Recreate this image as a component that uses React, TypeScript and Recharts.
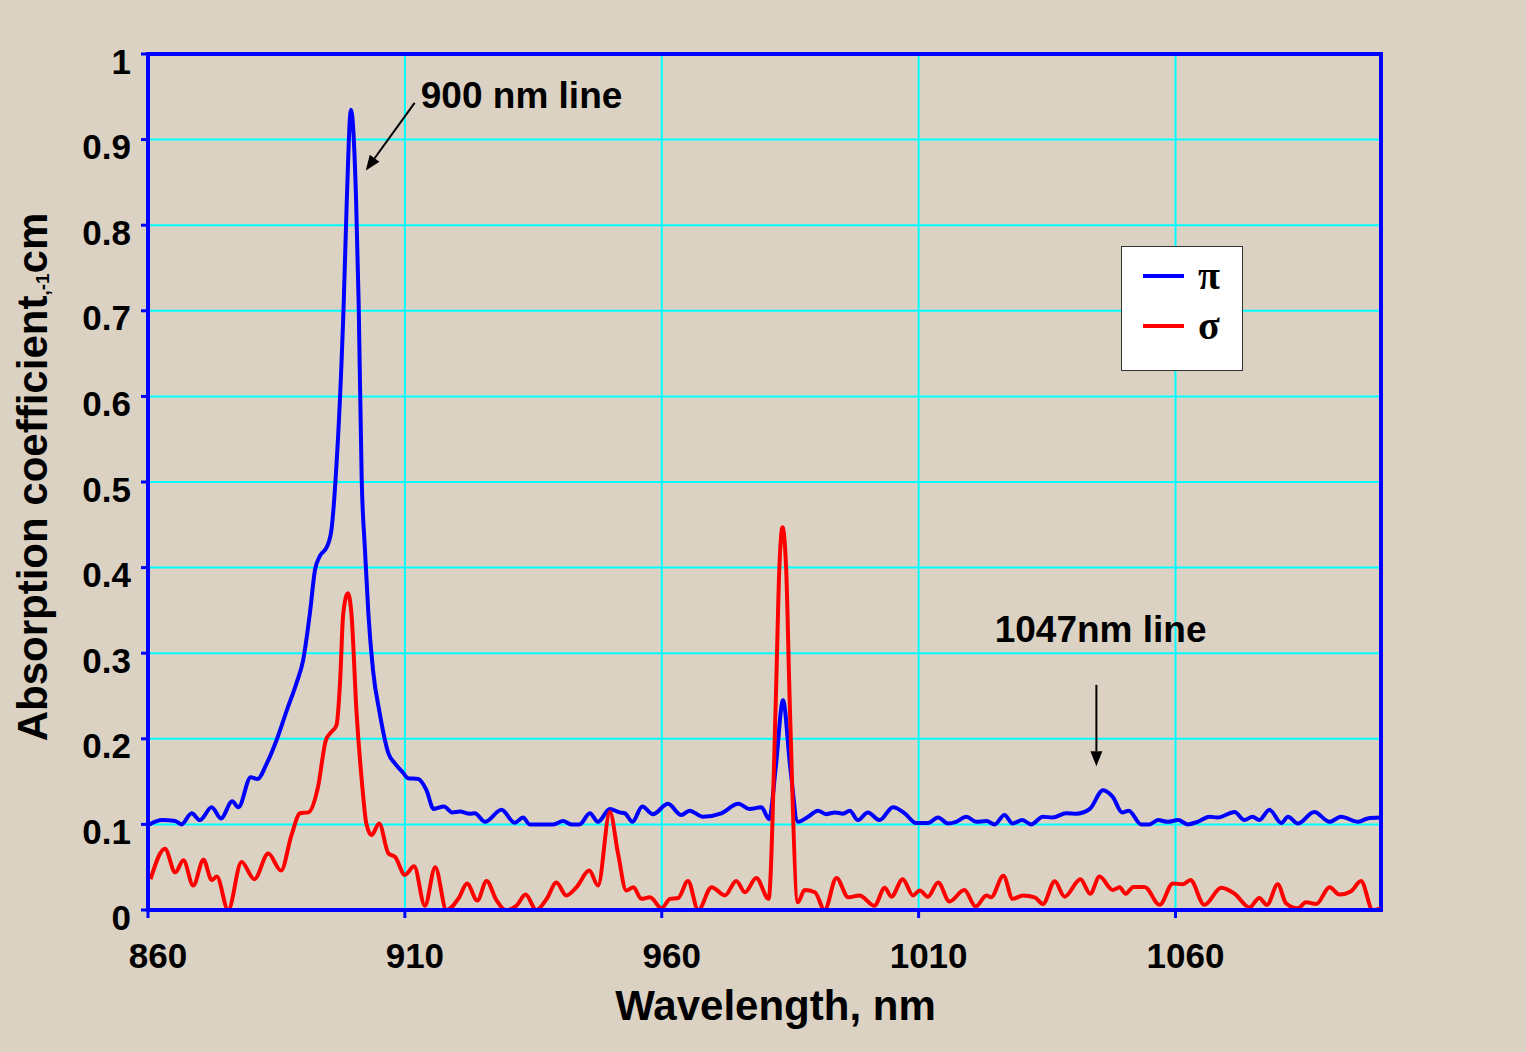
import React from 'react';
import {
  LineChart, Line, XAxis, YAxis, CartesianGrid, ReferenceArea, ReferenceLine, ReferenceDot, Legend,
} from 'recharts';

// ---------- data ----------
const xTicks = [860, 910, 960, 1010, 1060];
const yTicks = [0, 0.1, 0.2, 0.3, 0.4, 0.5, 0.6, 0.7, 0.8, 0.9, 1];

const piWavelength = [
  860.3, 862.7, 865.3, 866.5, 868.5, 870.1, 872.4, 874.2, 876.4, 877.6, 880.0, 881.3, 883.1, 885.0, 887.0,
  888.9, 890.2, 891.5, 892.5, 893.5, 894.8, 895.7, 896.5, 898.1, 898.7, 899.5, 900.5, 901.0, 901.6, 902.2,
  902.9, 903.8, 905.1, 906.8, 908.1, 909.7, 910.6, 912.6, 914.2, 915.6, 917.6, 919.2, 920.7, 922.6, 923.6,
  925.6, 928.8, 931.4, 933.0, 934.3, 938.9, 940.8, 942.4, 944.0, 946.0, 947.6, 949.9, 951.8, 952.8, 954.3,
  956.2, 958.3, 961.2, 963.8, 965.4, 968.0, 971.6, 974.9, 977.1, 979.4, 980.9, 982.2, 983.6, 985.0, 986.5,
  988.5, 990.4, 992.0, 993.7, 995.3, 996.6, 998.2, 1000.1, 1002.4, 1005.0, 1007.3, 1009.5, 1011.8, 1013.8, 1015.7,
  1017.3, 1019.3, 1021.2, 1023.2, 1024.8, 1026.7, 1028.3, 1030.2, 1031.9, 1034.2, 1036.1, 1038.7, 1040.7, 1043.3, 1045.9,
  1047.8, 1049.6, 1050.9, 1053.3, 1054.9, 1056.6, 1058.5, 1060.5, 1062.4, 1064.3, 1066.6, 1068.2, 1071.5, 1073.4, 1075.0,
  1076.3, 1078.3, 1080.6, 1081.9, 1083.8, 1087.0, 1090.0, 1092.2, 1095.5, 1097.4, 1099.9,
];
const piAbsorption = [
  0.100, 0.105, 0.104, 0.100, 0.113, 0.105, 0.120, 0.107, 0.127, 0.120, 0.155, 0.153, 0.171, 0.198, 0.233,
  0.265, 0.292, 0.346, 0.397, 0.414, 0.424, 0.444, 0.502, 0.710, 0.830, 0.935, 0.830, 0.710, 0.502, 0.424,
  0.346, 0.280, 0.230, 0.183, 0.171, 0.160, 0.154, 0.153, 0.140, 0.118, 0.121, 0.114, 0.115, 0.1125, 0.113,
  0.103, 0.117, 0.102, 0.108, 0.100, 0.100, 0.104, 0.100, 0.100, 0.113, 0.103, 0.118, 0.114, 0.113, 0.103,
  0.121, 0.112, 0.124, 0.111, 0.116, 0.109, 0.113, 0.124, 0.118, 0.120, 0.106, 0.167, 0.245, 0.167, 0.103,
  0.109, 0.116, 0.112, 0.114, 0.1125, 0.116, 0.105, 0.114, 0.105, 0.120, 0.113, 0.1016, 0.1016, 0.108, 0.101,
  0.103, 0.109, 0.103, 0.104, 0.100, 0.111, 0.101, 0.105, 0.100, 0.109, 0.108, 0.113, 0.1125, 0.118, 0.140,
  0.132, 0.114, 0.116, 0.100, 0.100, 0.105, 0.103, 0.105, 0.100, 0.103, 0.109, 0.108, 0.1145, 0.105, 0.109,
  0.105, 0.117, 0.1016, 0.109, 0.101, 0.1145, 0.103, 0.109, 0.103, 0.107, 0.108,
];

const sigmaWavelength = [
  860.5, 863.3, 865.3, 866.9, 868.8, 870.8, 872.4, 873.4, 875.6, 878.2, 880.7, 883.4, 885.9, 887.9, 889.6,
  891.2, 893.1, 894.6, 895.7, 896.7, 897.4, 898.0, 898.9, 899.6, 900.6, 901.6, 902.5, 903.5, 905.0, 906.8,
  908.1, 910.0, 911.8, 913.9, 915.9, 918.1, 920.5, 922.1, 924.1, 925.9, 927.8, 929.6, 931.7, 933.5, 935.6,
  937.6, 939.5, 941.4, 943.4, 945.9, 947.6, 949.9, 951.5, 953.1, 954.5, 956.0, 957.7, 960.0, 961.6, 963.2,
  965.1, 967.1, 969.7, 972.3, 974.5, 976.2, 978.4, 980.8, 982.2, 982.9, 983.5, 984.2, 984.9, 986.5, 987.8,
  989.8, 991.7, 994.0, 996.3, 998.5, 1001.4, 1003.4, 1004.7, 1006.9, 1008.9, 1010.2, 1011.8, 1013.8, 1016.0, 1018.9,
  1021.1, 1023.2, 1024.1, 1026.5, 1028.3, 1030.3, 1032.6, 1034.2, 1036.5, 1038.4, 1041.5, 1043.4, 1045.2, 1047.8, 1049.1,
  1050.3, 1051.8, 1054.0, 1056.9, 1059.5, 1061.4, 1062.9, 1065.6, 1068.9, 1071.5, 1074.4, 1076.3, 1077.8, 1079.9, 1081.5,
  1083.8, 1085.4, 1087.4, 1090.0, 1091.9, 1094.2, 1096.1, 1098.4, 1099.9,
];
const sigmaAbsorption = [
  0.036, 0.0715, 0.044, 0.058, 0.0285, 0.0586, 0.035, 0.039, 0.000, 0.056, 0.036, 0.066, 0.046, 0.087, 0.113,
  0.114, 0.144, 0.198, 0.208, 0.216, 0.268, 0.346, 0.370, 0.346, 0.230, 0.152, 0.101, 0.0875, 0.101, 0.066,
  0.062, 0.041, 0.051, 0.005, 0.050, 0.000, 0.014, 0.031, 0.011, 0.034, 0.0117, 0.000, 0.005, 0.018, 0.000,
  0.013, 0.032, 0.017, 0.0266, 0.046, 0.0285, 0.1145, 0.0656, 0.0227, 0.0266, 0.013, 0.0148, 0.002, 0.013, 0.014,
  0.034, 0.000, 0.0266, 0.017, 0.034, 0.0207, 0.0375, 0.013, 0.245, 0.401, 0.447, 0.401, 0.245, 0.009, 0.0234,
  0.0207, 0.000, 0.0375, 0.0148, 0.017, 0.005, 0.026, 0.0156, 0.036, 0.017, 0.0227, 0.0156, 0.032, 0.010, 0.0234,
  0.004, 0.017, 0.0148, 0.040, 0.013, 0.017, 0.0148, 0.007, 0.0336, 0.0156, 0.036, 0.019, 0.039, 0.0234, 0.0266,
  0.019, 0.027, 0.027, 0.006, 0.031, 0.030, 0.035, 0.006, 0.026, 0.019, 0.003, 0.014, 0.006, 0.030, 0.008,
  0.002, 0.009, 0.007, 0.0266, 0.018, 0.022, 0.034, 0.000, 0.002,
];

const piData = piWavelength.map((x, i) => ({ x, y: piAbsorption[i] }));
const sigmaData = sigmaWavelength.map((x, i) => ({ x, y: sigmaAbsorption[i] }));

// ---------- styling ----------
const SANS = '"Liberation Sans", Arial, Helvetica, sans-serif';
const SERIF = '"Liberation Serif", "Times New Roman", serif';
const BG = '#dbd2c3';
const AXIS_BLUE = '#0000ff';

const fmtY = (v: number) => (v === 0 ? '0' : v === 1 ? '1' : String(v));

const YTick = (props: any) => {
  const { x, y, payload } = props;
  return (
    <text x={x} y={y + 7} textAnchor="end" dominantBaseline="central"
      fontFamily={SANS} fontWeight="bold" fontSize={35} fill="#000">
      {fmtY(payload.value)}
    </text>
  );
};

const XTick = (props: any) => {
  const { x, y, payload } = props;
  return (
    <text x={x + 10} y={y + 50} textAnchor="middle"
      fontFamily={SANS} fontWeight="bold" fontSize={35} fill="#000">
      {payload.value}
    </text>
  );
};

const XTitle = (props: any) => {
  const vb = props.viewBox || { x: 148, y: 910, width: 1233, height: 142 };
  return (
    <text x={vb.x + vb.width / 2 + 11} y={vb.y + 110} textAnchor="middle"
      fontFamily={SANS} fontWeight="bold" fontSize={42} fill="#000">
      Wavelength, nm
    </text>
  );
};

const YTitle = (props: any) => {
  const vb = props.viewBox || { x: 0, y: 54, width: 148, height: 856 };
  const cx = vb.x + 47;
  const cy = vb.y + vb.height / 2 - 5;
  return (
    <text x={cx} y={cy} transform={`rotate(-90, ${cx}, ${cy})`} textAnchor="middle"
      fontFamily={SANS} fontWeight="bold" fontSize={42} fill="#000">
      Absorption coefficient
      <tspan fontSize={19} dy={2}>,-1</tspan>
      <tspan dy={-2}>cm</tspan>
    </text>
  );
};

const Arrow = (props: any) => {
  const { x1, y1, x2, y2 } = props;
  const ang = Math.atan2(y2 - y1, x2 - x1);
  const len = 15;
  const half = 6;
  const bx = x2 - len * Math.cos(ang);
  const by = y2 - len * Math.sin(ang);
  const px = -Math.sin(ang) * half;
  const py = Math.cos(ang) * half;
  return (
    <g>
      <line x1={x1} y1={y1} x2={bx} y2={by} stroke="#000" strokeWidth={2} />
      <polygon points={`${x2},${y2} ${bx + px},${by + py} ${bx - px},${by - py}`} fill="#000" />
    </g>
  );
};

const annotationText = (label: string) => (p: any) => (
  <text x={p.cx} y={p.cy} textAnchor="start" fontFamily={SANS} fontWeight="bold" fontSize={37} fill="#000">
    {label}
  </text>
);

const LegendBox = (props: any) => {
  const payload = (props.payload || []) as any[];
  return (
    <div style={{ width: 122, height: 125, background: '#fff', border: '1px solid #333', boxSizing: 'border-box' }}>
      <svg width={120} height={123}>
        {payload.map((item: any, i: number) => (
          <g key={i}>
            <line x1={21} x2={62} y1={29 + i * 50} y2={29 + i * 50} stroke={item.color} strokeWidth={4} />
            <text x={76} y={42 + i * 50} fontFamily={SERIF} fontWeight="bold" fontSize={40} fill="#000">{item.value}</text>
          </g>
        ))}
      </svg>
    </div>
  );
};

export default function App() {
  return (
    <div style={{ width: 1526, height: 1052, background: BG, position: 'relative', overflow: 'hidden' }}>
      <style>{`body{margin:0;background:${BG};}`}</style>
      <LineChart width={1526} height={1052} margin={{ top: 54, right: 145, bottom: 0, left: 0 }}>
        <CartesianGrid stroke="#00ffff" strokeWidth={2} />
        <XAxis
          type="number" dataKey="x" domain={[860, 1100]} ticks={xTicks} allowDataOverflow
          height={142} tick={<XTick />} tickSize={8} tickMargin={0}
          axisLine={{ stroke: AXIS_BLUE, strokeWidth: 4 }} tickLine={{ stroke: AXIS_BLUE, strokeWidth: 3 }}
          label={<XTitle />}
        />
        <YAxis
          type="number" domain={[0, 1]} ticks={yTicks} allowDataOverflow
          width={148} tick={<YTick />} tickSize={7} tickMargin={10}
          axisLine={{ stroke: AXIS_BLUE, strokeWidth: 4 }} tickLine={{ stroke: AXIS_BLUE, strokeWidth: 3 }}
          label={<YTitle />}
        />
        <ReferenceArea x1={860} x2={1100} y1={0} y2={1} fill="none" stroke={AXIS_BLUE} strokeWidth={4} ifOverflow="visible" />
        <Line data={piData} dataKey="y" name="π" type="monotone" stroke="#0000ff" strokeWidth={4}
          dot={false} activeDot={false} isAnimationActive={false} />
        <Line data={sigmaData} dataKey="y" name="σ" type="monotone" stroke="#ff0000" strokeWidth={4}
          dot={false} activeDot={false} isAnimationActive={false} />
        <ReferenceLine segment={[{ x: 911.9, y: 0.943 }, { x: 902.4, y: 0.864 }]} shape={Arrow} ifOverflow="visible" />
        <ReferenceLine segment={[{ x: 1044.6, y: 0.263 }, { x: 1044.6, y: 0.168 }]} shape={Arrow} ifOverflow="visible" />
        <ReferenceDot x={913.1} y={0.937} r={0} shape={annotationText('900 nm line')} ifOverflow="visible" />
        <ReferenceDot x={1024.8} y={0.313} r={0} shape={annotationText('1047nm line')} ifOverflow="visible" />
        <Legend
          layout="vertical" align="center" verticalAlign="middle"
          content={<LegendBox />}
          wrapperStyle={{ position: 'absolute', left: 1121, top: 246, width: 122, height: 125, margin: 0 }}
        />
      </LineChart>
    </div>
  );
}
